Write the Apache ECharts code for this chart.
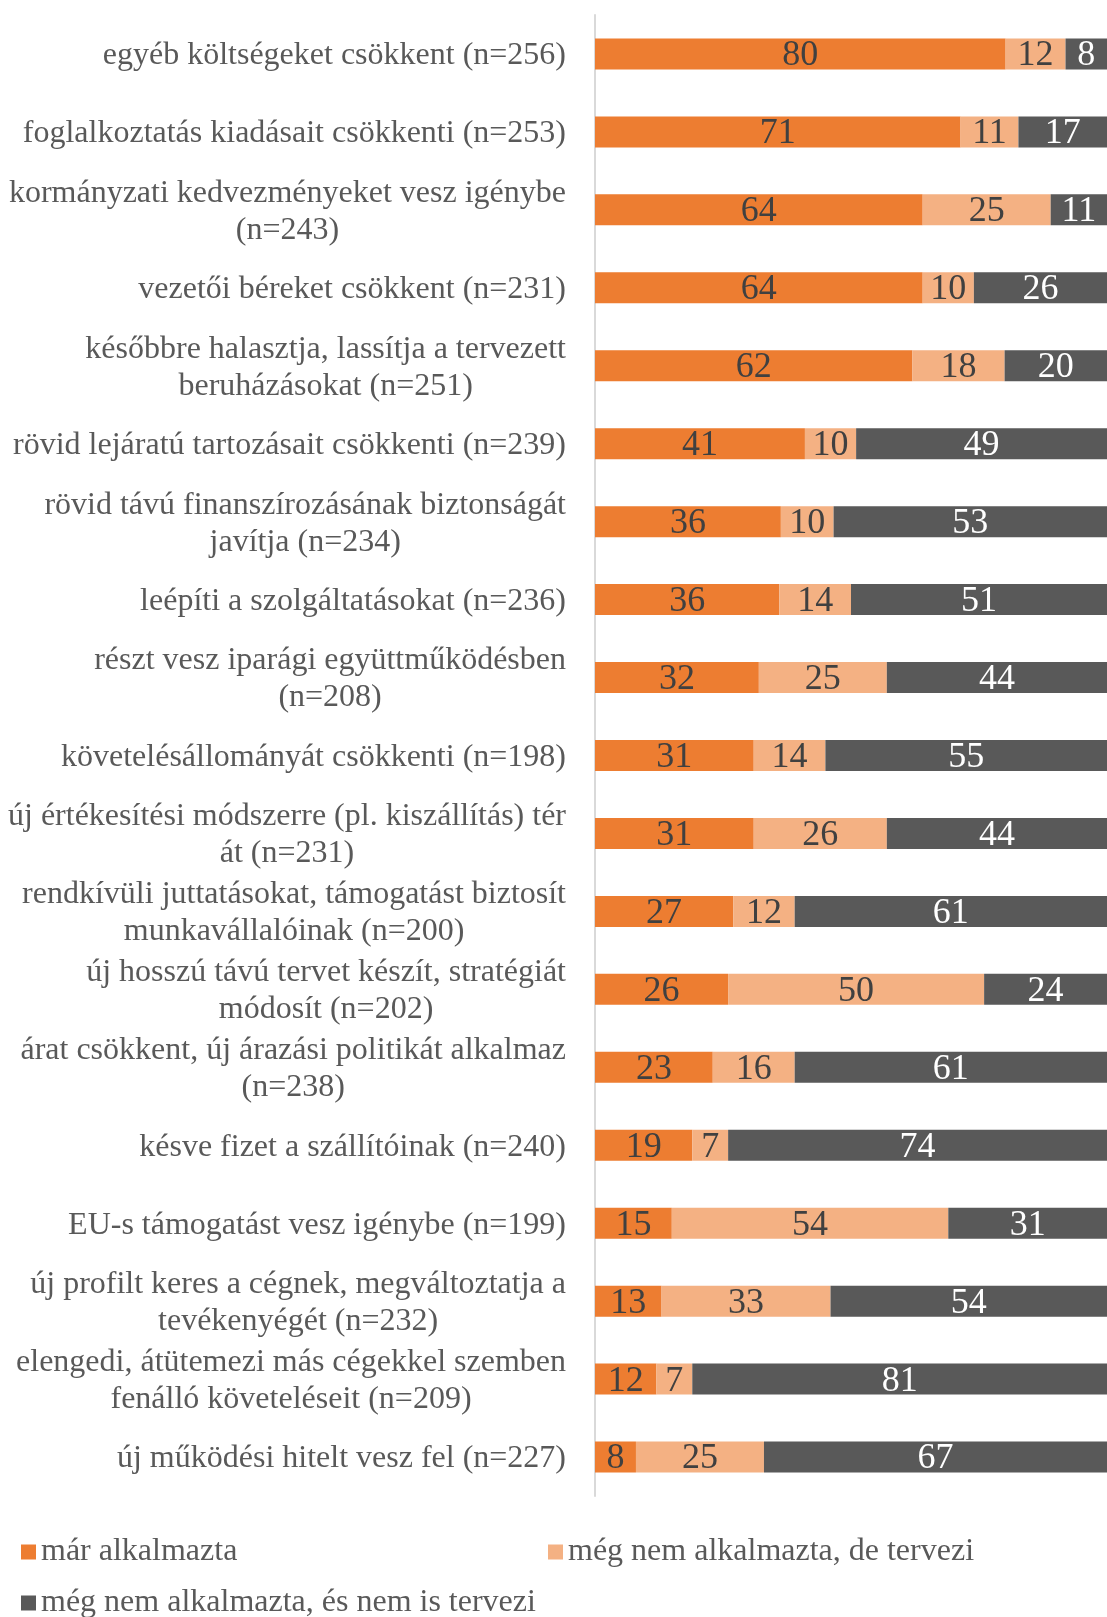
<!DOCTYPE html>
<html>
<head>
<meta charset="utf-8">
<script src="https://cdn.jsdelivr.net/npm/echarts@6/dist/echarts.min.js"></script>
<style>
  html, body { margin: 0; padding: 0; background: #ffffff; }
  #chart { width: 1107px; height: 1617px; }
</style>
</head>
<body>
<div id="chart"></div>
<script>
// kategóriák (felülről lefelé)
const categories = [
  'egyéb költségeket csökkent (n=256)',
  'foglalkoztatás kiadásait csökkenti (n=253)',
  'kormányzati kedvezményeket vesz igénybe\n(n=243)',
  'vezetői béreket csökkent (n=231)',
  'későbbre halasztja, lassítja a tervezett\nberuházásokat (n=251)',
  'rövid lejáratú tartozásait csökkenti (n=239)',
  'rövid távú finanszírozásának biztonságát\njavítja (n=234)',
  'leépíti a szolgáltatásokat (n=236)',
  'részt vesz iparági együttműködésben\n(n=208)',
  'követelésállományát csökkenti (n=198)',
  'új értékesítési módszerre (pl. kiszállítás) tér\nát (n=231)',
  'rendkívüli juttatásokat, támogatást biztosít\nmunkavállalóinak (n=200)',
  'új hosszú távú tervet készít, stratégiát\nmódosít (n=202)',
  'árat csökkent, új árazási politikát alkalmaz\n(n=238)',
  'késve fizet a szállítóinak (n=240)',
  'EU-s támogatást vesz igénybe (n=199)',
  'új profilt keres a cégnek, megváltoztatja a\ntevékenyégét (n=232)',
  'elengedi, átütemezi más cégekkel szemben\nfenálló követeléseit (n=209)',
  'új működési hitelt vesz fel (n=227)'
]

const seriesNames = [
  'már alkalmazta',
  'még nem alkalmazta, de tervezi',
  'még nem alkalmazta, és nem is tervezi'
]

// százalékok (a kerekített feliratok mögötti, képről becsült értékek)
const alreadyUsed = [80.2, 71.4, 64, 64, 62, 41, 36.3, 36, 32, 31, 31, 27, 26, 23, 19, 15, 13, 12, 8]
const planned = [11.7, 11.3, 25, 10, 18, 10, 10.3, 14, 25, 14, 26, 12, 50, 16, 7, 54, 33, 7, 25]
const notPlanned = [8.1, 17.3, 11, 26, 20, 49, 53.4, 51, 44, 55, 44, 61, 24, 61, 74, 31, 54, 81, 67]

const FONT = 'Liberation Serif'
const colors = ['#ED7D31', '#F4B183', '#595959']
const labelColors = ['#404040', '#404040', '#ffffff']

const chart = echarts.init(document.getElementById('chart'))

function makeSeries(idx, values) {
  return {
    name: seriesNames[idx],
    type: 'bar',
    stack: 'total',
    barWidth: 31,
    itemStyle: { color: colors[idx] },
    label: {
      show: true,
      position: 'inside',
      offset: [0, 2],
      fontFamily: FONT,
      fontSize: 36,
      color: labelColors[idx],
      formatter: (p) => Math.round(p.value)
    },
    emphasis: { disabled: true },
    data: values
  }
}

function makeLegend(idx, left, top) {
  return {
    data: [seriesNames[idx]],
    left: left,
    top: top,
    padding: 0,
    icon: 'rect',
    itemWidth: 15,
    itemHeight: 15,
    selectedMode: false,
    textStyle: { fontFamily: FONT, fontSize: 32, color: '#595959' }
  }
}

const option = {
  backgroundColor: '#ffffff',
  animation: false,
  legend: [
    makeLegend(0, 21, 1536),
    makeLegend(1, 548, 1536),
    makeLegend(2, 21, 1587)
  ],
  grid: {
    left: 595,
    right: 0,
    top: 15,
    bottom: 121,
    containLabel: false
  },
  xAxis: {
    type: 'value',
    min: 0,
    max: 100,
    show: false
  },
  yAxis: {
    type: 'category',
    inverse: true,
    data: categories,
    axisLine: { show: true, lineStyle: { color: '#D9D9D9', width: 2 } },
    axisTick: { show: false },
    axisLabel: {
      margin: 29,
      align: 'right',
      padding: [4, 0, 0, 0],
      formatter: (v) => v.split('\n').map(s => '{c|' + s + '}').join('\n'),
      rich: {
        c: {
          align: 'center',
          fontFamily: FONT,
          fontSize: 32,
          lineHeight: 37,
          color: '#595959'
        }
      }
    }
  },
  series: [
    makeSeries(0, alreadyUsed),
    makeSeries(1, planned),
    makeSeries(2, notPlanned)
  ]
}

chart.setOption(option)
</script>
</body>
</html>
